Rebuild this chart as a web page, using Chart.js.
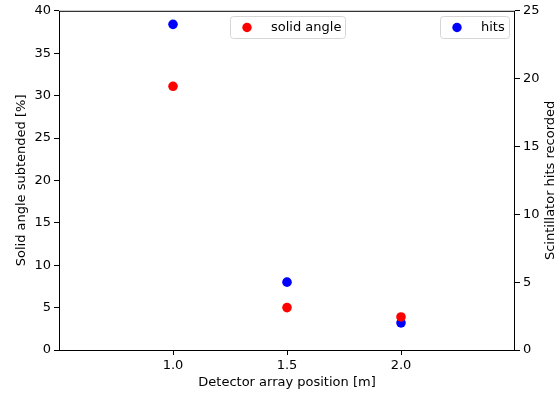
<!DOCTYPE html>
<html>
<head>
<meta charset="utf-8">
<script src="https://cdn.jsdelivr.net/npm/chart.js@4/dist/chart.umd.min.js"></script>
<style>
    html, body { margin: 0; padding: 0; background: #fff; }
    #wrap { width: 558px; height: 399px; position: relative; }
</style>
</head>
<body>
<div id="wrap"><canvas id="solidAngleChart" width="558" height="399"></canvas></div>
<script>
const positions = [1.0, 1.5, 2.0];
const solidAngle = [31.1, 5.0, 3.9];
const hits = [24, 5, 2];
const xTicks = [1.0, 1.5, 2.0];

const font = { family: "'DejaVu Sans', sans-serif", size: 13 };

Chart.defaults.color = '#000';
Chart.defaults.font.family = font.family;
Chart.defaults.font.size = font.size;

// matplotlib-style box, right axis title read bottom-to-top, and the two separate legends
const frameAndLegends = {
    id: 'frameAndLegends',
    afterDatasetsDraw(chart, args, opts) {
        const { ctx, chartArea } = chart;
        ctx.save();
        ctx.strokeStyle = '#000';
        ctx.lineWidth = 1;
        ctx.strokeRect(chartArea.left + 0.5, chartArea.top + 0.5, chartArea.right - chartArea.left - 1, chartArea.bottom - chartArea.top);

        ctx.font = `${font.size}px ${font.family}`;
        ctx.fillStyle = '#000';
        ctx.save();
        ctx.translate(opts.rightTitle.x, (chartArea.top + chartArea.bottom) / 2);
        ctx.rotate(-Math.PI / 2);
        ctx.textAlign = 'center';
        ctx.textBaseline = 'middle';
        ctx.fillText(opts.rightTitle.text, 0, 0);
        ctx.restore();

        opts.boxes.forEach((box) => {
            const ds = chart.data.datasets[box.dataset];
            const w = box.width;
            const h = 22;
            ctx.beginPath();
            ctx.roundRect(box.x + 0.5, box.y + 0.5, w, h, 3);
            ctx.fillStyle = 'rgba(255,255,255,0.8)';
            ctx.fill();
            ctx.strokeStyle = '#d6d6d6';
            ctx.stroke();

            ctx.beginPath();
            ctx.arc(box.x + 17, box.y + 11.5, 4.7, 0, Math.PI * 2);
            ctx.fillStyle = ds.backgroundColor;
            ctx.fill();

            ctx.fillStyle = '#000';
            ctx.textBaseline = 'middle';
            ctx.fillText(ds.label, box.x + 41, box.y + 12);
        });
        ctx.restore();
    }
};

new Chart(document.getElementById('solidAngleChart'), {
    type: 'scatter',
    data: {
        datasets: [
            {
                label: 'solid angle',
                data: positions.map((x, i) => ({ x, y: solidAngle[i] })),
                backgroundColor: '#ff0000',
                borderWidth: 0,
                pointRadius: 4.8,
                yAxisID: 'y'
            },
            {
                label: 'hits',
                data: positions.map((x, i) => ({ x, y: hits[i] })),
                backgroundColor: '#0000ff',
                borderWidth: 0,
                pointRadius: 4.8,
                yAxisID: 'y1'
            }
        ]
    },
    plugins: [frameAndLegends],
    options: {
        responsive: false,
        animation: false,
        layout: { padding: { top: 10, left: 0, right: 0, bottom: 0 } },
        plugins: {
            legend: { display: false },
            tooltip: { enabled: false },
            frameAndLegends: {
                rightTitle: { text: 'Scintillator hits recorded', x: 551 },
                boxes: [
                    { dataset: 0, x: 230, y: 16, width: 115 },
                    { dataset: 1, x: 440, y: 16, width: 69 }
                ]
            }
        },
        scales: {
            x: {
                type: 'linear',
                min: 0.5,
                max: 2.5,
                afterBuildTicks: (scale) => { scale.ticks = xTicks.map((value) => ({ value })); },
                afterFit: (scale) => { scale.height = 49; },
                grid: { drawOnChartArea: false, tickLength: 5, tickColor: '#000' },
                border: { display: false },
                ticks: { padding: 3, color: '#000', callback: (v) => Number(v).toFixed(1) },
                title: { display: true, text: 'Detector array position [m]', color: '#000', padding: { top: 0, bottom: 9 } }
            },
            y: {
                position: 'left',
                min: 0,
                max: 40,
                afterFit: (scale) => { scale.width = 59; },
                grid: { drawOnChartArea: false, tickLength: 5, tickColor: '#000' },
                border: { display: false },
                ticks: { stepSize: 5, padding: 3, color: '#000' },
                title: { display: true, text: 'Solid angle subtended [%]', color: '#000', padding: { top: 14, bottom: 0 } }
            },
            y1: {
                position: 'right',
                min: 0,
                max: 25,
                afterFit: (scale) => { scale.width = 43; },
                grid: { drawOnChartArea: false, tickLength: 5, tickColor: '#000' },
                border: { display: false },
                ticks: { stepSize: 5, padding: 3, color: '#000' }
            }
        }
    }
});
</script>
</body>
</html>
